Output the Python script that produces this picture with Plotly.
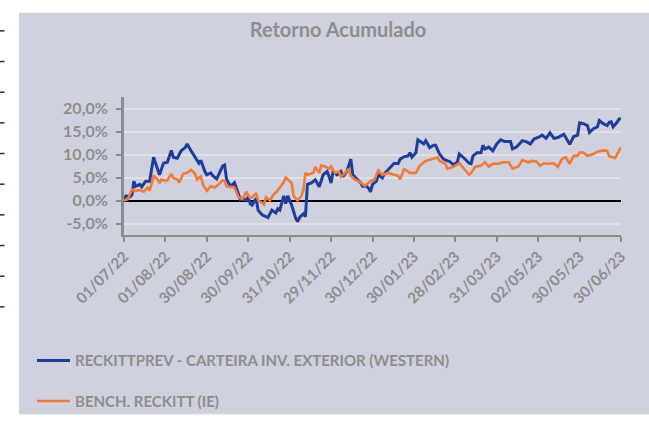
import plotly.graph_objects as go

# ---------------- data ----------------
title_text = "Retorno Acumulado"
series_names = ["RECKITTPREV - CARTEIRA INV. EXTERIOR (WESTERN)", "BENCH. RECKITT (IE)"]

tick_days = [0, 21, 42, 63, 84, 105, 126, 147, 168, 189, 210, 231, 252]
tick_labels = ["01/07/22", "01/08/22", "30/08/22", "30/09/22", "31/10/22", "29/11/22",
               "30/12/22", "30/01/23", "28/02/23", "31/03/23", "02/05/23", "30/05/23", "30/06/23"]

y_ticks = [-5, 0, 5, 10, 15, 20]
y_tick_labels = ["-5,0%", "0,0%", "5,0%", "10,0%", "15,0%", "20,0%"]

# trading-day number and cumulative return (%) - portfolio
port_day = [0, 1, 3, 4, 5, 6, 8, 9, 11, 13, 15, 16, 18, 20, 22, 24, 25, 27, 29, 31, 32, 34, 36, 38,
            39, 41, 42, 44, 45, 47, 48, 50, 51, 52, 54, 56, 58, 59, 60, 62, 63, 64, 65, 67, 68, 70,
            73, 75, 77, 78, 79, 80, 81, 82, 83, 85, 87, 88, 89, 91, 92, 93, 95, 97, 99, 101, 103,
            104, 105, 106, 108, 110, 111, 113, 115, 116, 118, 120, 121, 123, 124, 125, 126, 128,
            129, 131, 132, 135, 137, 139, 140, 142, 144, 145, 146, 148, 149, 151, 152, 153, 155,
            157, 158, 160, 162, 164, 165, 167, 169, 170, 172, 175, 176, 177, 179, 181, 182, 183,
            185, 187, 189, 191, 193, 196, 197, 199, 202, 204, 206, 208, 210, 212, 214, 216, 218,
            220, 223, 224, 226, 228, 230, 231, 233, 235, 236, 238, 240, 241, 243, 245, 246, 247,
            248, 250, 251, 252]
port_ret = [0.4, 1.0, 0.8, 1.2, 4.2, 3.1, 3.5, 3.0, 4.2, 4.2, 9.4, 8.0, 5.6, 8.1, 8.3, 10.9, 9.4,
            9.2, 10.8, 11.5, 12.3, 10.8, 9.4, 8.1, 8.7, 6.3, 5.6, 6.0, 5.4, 4.7, 5.6, 7.5, 7.7, 4.6,
            3.1, 3.9, 1.4, 0.2, 0.5, 0.0, 0.8, -0.7, -1.0, 0.5, -2.1, -3.1, -3.7, -2.1, -2.7, -1.8,
            -2.1, -0.5, 1.0, -0.7, 1.0, -1.0, -3.8, -4.6, -3.7, -2.9, -3.5, 3.5, 3.8, 4.5, 3.0, 5.6,
            6.3, 5.2, 3.8, 6.3, 5.6, 6.3, 5.2, 6.3, 9.0, 5.6, 4.8, 3.8, 3.1, 3.1, 2.7, 1.9, 3.5,
            4.2, 5.6, 4.9, 5.8, 7.3, 8.1, 8.0, 9.0, 9.5, 9.7, 10.4, 9.4, 10.4, 13.2, 12.6, 12.3,
            13.0, 11.5, 12.0, 12.0, 10.1, 9.0, 8.6, 8.5, 7.8, 8.3, 10.1, 9.4, 8.1, 8.0, 9.7, 10.4,
            10.4, 12.0, 11.2, 11.6, 10.8, 12.3, 13.2, 12.8, 12.8, 11.2, 11.6, 13.0, 12.8, 12.3,
            13.4, 13.7, 14.2, 13.5, 14.7, 13.5, 13.7, 14.4, 13.7, 12.2, 13.9, 14.2, 16.9, 16.7,
            16.3, 14.8, 15.6, 16.0, 17.4, 16.7, 16.3, 17.0, 17.1, 16.0, 17.0, 17.7, 17.8]

# trading-day number and cumulative return (%) - benchmark
bench_day = [0, 2, 4, 6, 8, 10, 12, 13, 15, 17, 18, 19, 21, 22, 24, 25, 27, 28, 30, 32, 34, 36,
             37, 39, 40, 42, 44, 46, 48, 50, 51, 52, 55, 56, 58, 60, 61, 62, 64, 65, 67, 68, 70,
             71, 72, 74, 76, 77, 79, 81, 82, 85, 86, 88, 90, 91, 92, 93, 96, 97, 99, 100, 102,
             104, 105, 107, 109, 110, 112, 114, 115, 117, 120, 122, 123, 125, 127, 129, 131, 134,
             137, 139, 140, 142, 143, 145, 148, 150, 153, 156, 159, 160, 163, 164, 167, 170, 173,
             175, 176, 178, 181, 183, 185, 187, 190, 192, 195, 197, 200, 202, 205, 207, 209, 211,
             213, 215, 218, 220, 222, 224, 226, 228, 230, 231, 233, 235, 238, 240, 243, 245, 246,
             248, 249, 251, 252]
bench_ret = [0.0, 0.3, 2.4, 2.1, 2.3, 1.9, 2.8, 2.1, 5.3, 4.6, 3.8, 4.6, 4.2, 4.4, 5.8, 4.9, 4.6,
             3.9, 5.8, 6.0, 6.7, 5.8, 4.6, 5.2, 3.5, 2.1, 3.1, 2.8, 3.5, 4.4, 4.2, 3.1, 2.9, 2.8,
             0.7, 0.3, 1.0, 1.9, 0.5, 0.7, 1.6, 0.0, -0.5, -0.9, 0.7, 0.0, 1.4, 1.7, 2.8, 4.0, 5.0,
             3.8, 1.0, 0.0, 1.0, 2.4, 6.0, 5.6, 6.0, 7.3, 6.0, 7.6, 7.4, 6.9, 7.4, 6.0, 6.3, 5.2,
             5.9, 6.9, 5.3, 4.6, 3.9, 3.2, 3.5, 4.2, 4.5, 6.6, 5.6, 6.0, 5.6, 5.4, 4.6, 6.8, 6.6,
             6.0, 6.0, 7.6, 8.6, 9.0, 9.4, 8.6, 8.0, 6.9, 7.3, 8.1, 6.6, 5.6, 6.0, 7.3, 7.6, 8.3,
             7.4, 8.0, 8.0, 8.3, 8.3, 6.9, 7.4, 8.8, 8.3, 8.6, 8.5, 7.6, 8.1, 8.0, 8.1, 7.3, 9.0,
             9.4, 8.0, 9.7, 9.7, 10.4, 10.4, 9.7, 10.1, 10.6, 10.9, 10.8, 9.7, 9.4, 9.2, 10.8, 11.6]

# left-edge dashes (remnant of neighbouring chart), pixel rows
dash_rows = [28, 60, 92, 124, 156, 188, 220, 252, 284, 316]

# ---------------- layout geometry ----------------
W, H = 649, 430
L, R, T, B = 124, 621, 97, 241   # plot area in pixels
pw, ph = R - L, B - T

def px(x):
    return (x - L) / pw

def py(y):
    return (B - y) / ph

BOX = "#CFD1DE"
GRAY = "#8E8E8E"
FONT = "Lato, Noto Sans, sans-serif"

fig = go.Figure()
fig.add_trace(go.Scatter(x=port_day, y=port_ret, mode="lines", name=series_names[0],
                         legendgroup="a",
                         line=dict(color="#1F3E9C", width=3)))
fig.add_trace(go.Scatter(x=bench_day, y=bench_ret, mode="lines", name=series_names[1],
                         legendgroup="b",
                         line=dict(color="#F27A3A", width=2.6)))

shapes = [dict(type="rect", xref="paper", yref="paper", x0=px(19), x1=px(649), y0=py(428), y1=py(9),
               fillcolor=BOX, line=dict(width=0), layer="below")]
for r in dash_rows:
    shapes.append(dict(type="line", xref="paper", yref="paper", x0=px(0), x1=px(4.5),
                       y0=py(r), y1=py(r), line=dict(color="#1B2A6B", width=1.5)))

fig.update_layout(
    width=W, height=H,
    margin=dict(l=L, r=W - R, t=T, b=H - B, pad=0),
    paper_bgcolor="white",
    plot_bgcolor="rgba(0,0,0,0)",
    shapes=shapes,
    title=dict(text="<b>" + title_text + "</b>", xref="container", x=338 / W, xanchor="center",
               yref="container", y=1 - 30 / H, yanchor="middle",
               font=dict(family=FONT, size=20, color=GRAY)),
    font=dict(family=FONT, color=GRAY),
    showlegend=True,
    legend=dict(x=px(32), y=py(355), xanchor="left", yanchor="top", bgcolor="rgba(0,0,0,0)",
                font=dict(family=FONT, size=15, color=GRAY, weight="bold"),
                tracegroupgap=18, itemwidth=33),
    xaxis=dict(range=[0, 252], tickvals=tick_days, ticktext=tick_labels, tickangle=-45,
               showgrid=False, zeroline=False, showline=True, linecolor="#8C8C8C", linewidth=2,
               ticks="outside", ticklen=5, tickwidth=1.5, tickcolor="#8C8C8C",
               tickfont=dict(family=FONT, size=15, color=GRAY, weight="bold")),
    yaxis=dict(range=[-7.5, 22.5], tickvals=y_ticks, ticktext=y_tick_labels,
               showgrid=True, gridcolor="#E0E0E6", gridwidth=1.5,
               zeroline=True, zerolinecolor="black", zerolinewidth=1.5,
               showline=True, linecolor="#8C8C8C", linewidth=3,
               ticks="outside", ticklen=5, tickwidth=1.5, tickcolor="#8C8C8C",
               ticklabelstandoff=5,
               tickfont=dict(family=FONT, size=16, color=GRAY, weight="bold")),
)

post = ("document.documentElement.style.margin='0';document.body.style.margin='0';"
        "document.body.style.overflow='hidden';"
        "var d=document.getElementById('{plot_id}');d.style.position='fixed';"
        "d.style.top='0px';d.style.left='0px';")

fig.write_html("out.html", config={"displayModeBar": False}, post_script=post)
